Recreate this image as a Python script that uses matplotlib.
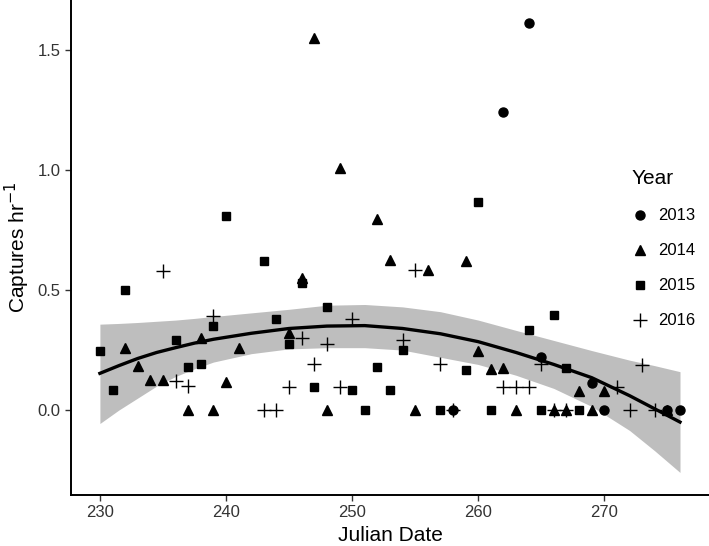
import numpy as np
import matplotlib
matplotlib.use("Agg")
import matplotlib.pyplot as plt
from matplotlib.lines import Line2D

plt.rcParams['font.family'] = ['Liberation Sans', 'DejaVu Sans']

# captures per hour, by year
day_2013 = [258, 262, 264, 265, 269, 270, 275, 276]
cap_2013 = [0, 1.243, 1.615, 0.222, 0.114, 0, 0, 0]

day_2014 = [232, 233, 234, 235, 237, 238, 239, 240, 241, 245, 246, 247, 248, 249,
            252, 253, 255, 256, 259, 260, 261, 262, 263, 266, 267, 268, 269, 270, 275]
cap_2014 = [0.26, 0.185, 0.125, 0.125, 0, 0.30, 0, 0.117, 0.26, 0.32, 0.55, 1.55, 0, 1.01,
            0.796, 0.625, 0, 0.583, 0.62, 0.247, 0.172, 0.176, 0, 0, 0, 0.08, 0, 0.08, 0]

day_2015 = [230, 231, 232, 236, 237, 238, 239, 240, 243, 244, 245, 246, 247, 248,
            250, 251, 252, 253, 254, 257, 259, 260, 261, 264, 265, 266, 267, 268]
cap_2015 = [0.247, 0.085, 0.50, 0.29, 0.18, 0.19, 0.35, 0.81, 0.62, 0.38, 0.275, 0.53, 0.095, 0.43,
            0.085, 0, 0.18, 0.085, 0.25, 0, 0.165, 0.867, 0, 0.333, 0, 0.395, 0.176, 0]

day_2016 = [235, 236, 237, 239, 243, 244, 245, 246, 247, 248, 249, 250, 254, 255,
            257, 258, 262, 263, 264, 265, 266, 267, 271, 272, 273, 274]
cap_2016 = [0.58, 0.12, 0.10, 0.39, 0, 0, 0.095, 0.30, 0.19, 0.275, 0.095, 0.38, 0.29, 0.583,
            0.19, 0, 0.097, 0.097, 0.097, 0.19, 0, 0, 0.097, 0, 0.186, 0]

# smoothed trend and its confidence band
fit_day = [230, 231.5, 233, 234.5, 236, 237.5, 239, 242, 245, 248, 251, 254, 257, 260, 263, 266, 269, 272, 274, 276]
fit_mid = [0.153, 0.185, 0.215, 0.24, 0.26, 0.279, 0.295, 0.32, 0.34, 0.35, 0.352, 0.34, 0.318, 0.285, 0.24, 0.19, 0.135, 0.06, 0.005, -0.05]
fit_hi = [0.358, 0.361, 0.365, 0.37, 0.375, 0.382, 0.39, 0.405, 0.42, 0.437, 0.44, 0.43, 0.41, 0.375, 0.332, 0.29, 0.248, 0.208, 0.185, 0.16]
fit_lo = [-0.056, 0.0, 0.05, 0.1, 0.14, 0.172, 0.20, 0.235, 0.255, 0.26, 0.26, 0.25, 0.22, 0.19, 0.145, 0.09, 0.015, -0.085, -0.17, -0.26]

years = ['2013', '2014', '2015', '2016']

fig = plt.figure(figsize=(7.09, 5.46), dpi=100)
ax = fig.add_axes([0.1, 0.0934, 0.9, 0.9066])

ax.plot(day_2013, cap_2013, 'o', color='black', ms=6.5, ls='none')
ax.plot(day_2014, cap_2014, '^', color='black', ms=7.5, ls='none')
ax.plot(day_2015, cap_2015, 's', color='black', ms=5.5, ls='none')
ax.plot(day_2016, cap_2016, '+', color='black', ms=10, mew=1.0, ls='none')

ax.fill_between(fit_day, fit_lo, fit_hi, color='#bebebe', lw=0, zorder=1)
ax.plot(fit_day, fit_mid, color='black', lw=2.4, zorder=3)

ax.set_xlim(227.7, 278.3)
ax.set_ylim(-0.354, 1.709)
ax.set_xticks([230, 240, 250, 260, 270])
ax.set_yticks([0.0, 0.5, 1.0, 1.5])
ax.set_yticklabels(['0.0', '0.5', '1.0', '1.5'])
ax.tick_params(labelsize=12, length=4, width=1, color='#333333', labelcolor='#333333')
ax.set_xlabel('Julian Date', fontsize=15)
ax.set_ylabel('Captures hr$^{-1}$', fontsize=15)
for s in ['top', 'right']:
    ax.spines[s].set_visible(False)
for s in ['left', 'bottom']:
    ax.spines[s].set_linewidth(1.4)

handles = [Line2D([], [], marker='o', color='black', ls='none', ms=6.5),
           Line2D([], [], marker='^', color='black', ls='none', ms=7.5),
           Line2D([], [], marker='s', color='black', ls='none', ms=5.5),
           Line2D([], [], marker='+', color='black', ls='none', ms=10, mew=1.0)]
leg = ax.legend(handles, years, title='Year', frameon=False, fontsize=12,
                title_fontsize=15, loc='upper left', bbox_to_anchor=(0.855, 0.688),
                handlelength=1.0, handletextpad=0.6, labelspacing=1.2)
leg._legend_box.align = 'left'

fig.savefig('out.png', dpi=100)
